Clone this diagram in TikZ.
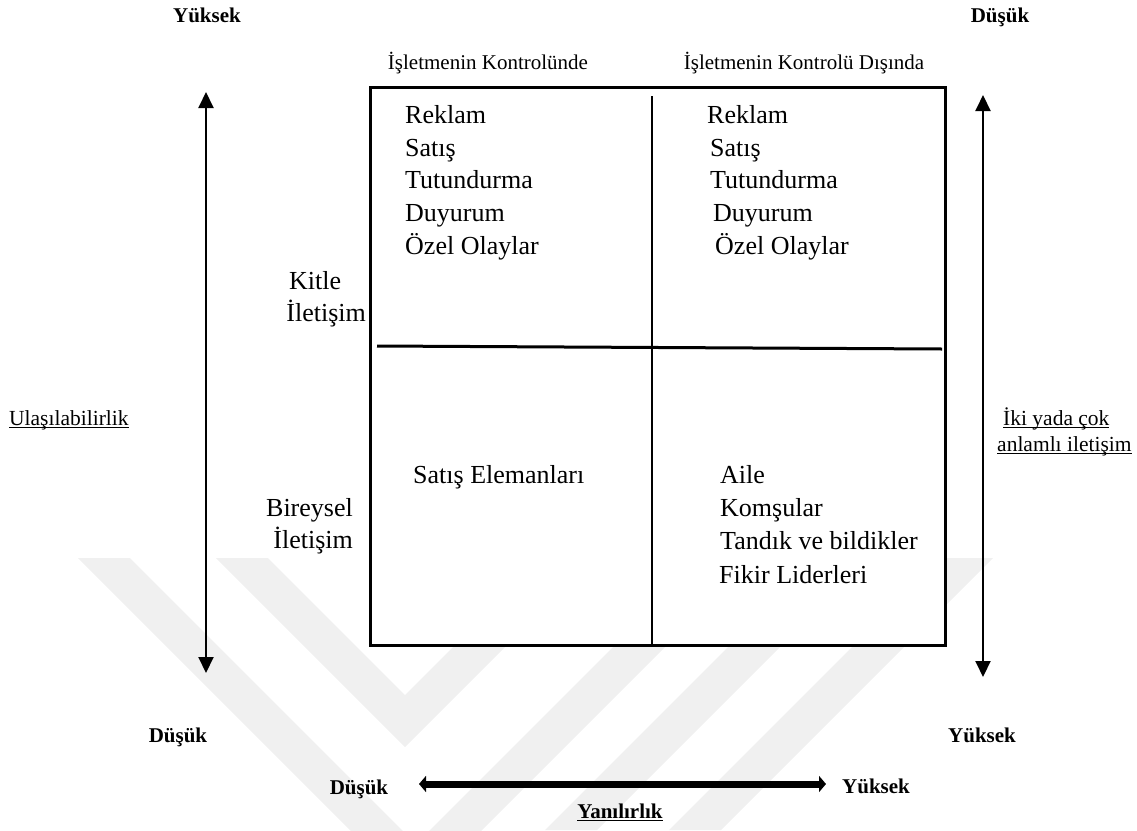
\documentclass[tikz,border=0pt]{standalone}
\usepackage{fontspec}
\setmainfont{Liberation Serif}
\usetikzlibrary{arrows.meta}

% underline at a fixed distance below the baseline
\newcommand{\undertext}[1]{\setbox0\hbox{#1}\rlap{\rule[-2.6pt]{\wd0}{1pt}}\box0}

\begin{document}
\begin{tikzpicture}[x=1pt,y=-1pt,
  item/.style={inner sep=0pt, anchor=base west, font=\fontsize{26}{30}\selectfont},
  itemr/.style={inner sep=0pt, anchor=base east, font=\fontsize{26}{30}\selectfont},
  level/.style={inner sep=0pt, anchor=base, font=\fontsize{21}{25}\selectfont\bfseries},
  head/.style={inner sep=0pt, anchor=base, font=\fontsize{21}{25}\selectfont},
  axislabel/.style={inner sep=0pt, anchor=base west, font=\fontsize{21.5}{26}\selectfont},
  quadbox/.style={draw, line width=3pt, fill=white, inner sep=0pt},
  vaxis/.style={line width=2pt, {Triangle[length=16pt,width=15pt]}-{Triangle[length=16pt,width=15pt]}},
  haxis/.style={line width=7pt, {Triangle[length=7pt,width=16pt]}-{Triangle[length=7pt,width=16pt]}},
  mark band/.style={fill=black!6, draw=none}]
\useasboundingbox (0,0) rectangle (1137,830);

% faint chevron emblem in the background
\fill[mark band] (78,558) -- (130,558) -- (416,844) -- (675,585) -- (727,585) -- (416,896) -- cycle;
\fill[mark band] (216,558) -- (268,558) -- (405,695) -- (455,645) -- (507,645) -- (405,747) -- cycle;
\fill[mark band] (545,830) -- (597,830) -- (830,597) -- (778,597) -- cycle;
\fill[mark band] (941,558) -- (993,558) -- (721,830) -- (669,830) -- cycle;

% matrix frame and its dividers
\node[quadbox, minimum width=575pt, minimum height=558pt] (frame) at (657.5,366) {};
\coordinate (vtop) at (652,96);
\coordinate (vbot) at (652,645);
\coordinate (hleft) at (377,346);
\coordinate (hright) at (942,349);
\draw[line width=2.2pt] (vtop) -- (vbot);
\draw[line width=3pt] (hleft) -- (hright);

% column headings
\node[head] (hcol1) at (488,69) {İşletmenin Kontrolünde};
\node[head] (hcol2) at (804,69) {İşletmenin Kontrolü Dışında};

% row headings
\node[item] (kitle) at (289,289) {Kitle};
\node[itemr] (kitle2) at (366,321) {İletişim};
\node[itemr] (bireysel) at (353,516) {Bireysel};
\node[itemr] (bireysel2) at (353,548) {İletişim};

% upper left quadrant
\node[item] (a1) at (405,123) {Reklam};
\node[item] (a2) at (405,156) {Satış};
\node[item] (a3) at (405,188.5) {Tutundurma};
\node[item] (a4) at (405,221) {Duyurum};
\node[item] (a5) at (405,254) {Özel Olaylar};

% upper right quadrant
\node[item] (b1) at (707,123) {Reklam};
\node[item] (b2) at (710,156) {Satış};
\node[item] (b3) at (710,188.5) {Tutundurma};
\node[item] (b4) at (713,221) {Duyurum};
\node[item] (b5) at (715,254) {Özel Olaylar};

% lower quadrants
\node[item] (c1) at (413,483) {Satış Elemanları};
\node[item] (d1) at (720,483) {Aile};
\node[item] (d2) at (720,516) {Komşular};
\node[item] (d3) at (720,549.5) {Tandık ve bildikler};
\node[item] (d4) at (719,583) {Fikir Liderleri};

% vertical scales
\node[level] (lhigh) at (207,22) {Yüksek};
\node[level] (llow) at (178,742) {Düşük};
\node[level] (rlow) at (1000,22) {Düşük};
\node[level] (rhigh) at (982,742) {Yüksek};
\coordinate (la) at (206,92);
\coordinate (lb) at (206,673);
\coordinate (ra) at (983,95);
\coordinate (rb) at (983,677);
\draw[vaxis] (la) -- (lb);
\draw[vaxis] (ra) -- (rb);
\node[axislabel] (ulas) at (9,425) {\undertext{Ulaşılabilirlik}};
\node[axislabel] (iki1) at (1003,425) {\undertext{İki yada çok}};
\node[axislabel] (iki2) at (997,451) {\undertext{anlamlı iletişim}};

% horizontal scale
\node[level] (blow) at (359,794) {Düşük};
\node[level] (bhigh) at (876,793) {Yüksek};
\node[level] (yan) at (620,818) {\undertext{Yanılırlık}};
\coordinate (ha) at (419,784);
\coordinate (hb) at (826,784);
\draw[haxis] (ha) -- (hb);
\end{tikzpicture}
\end{document}
